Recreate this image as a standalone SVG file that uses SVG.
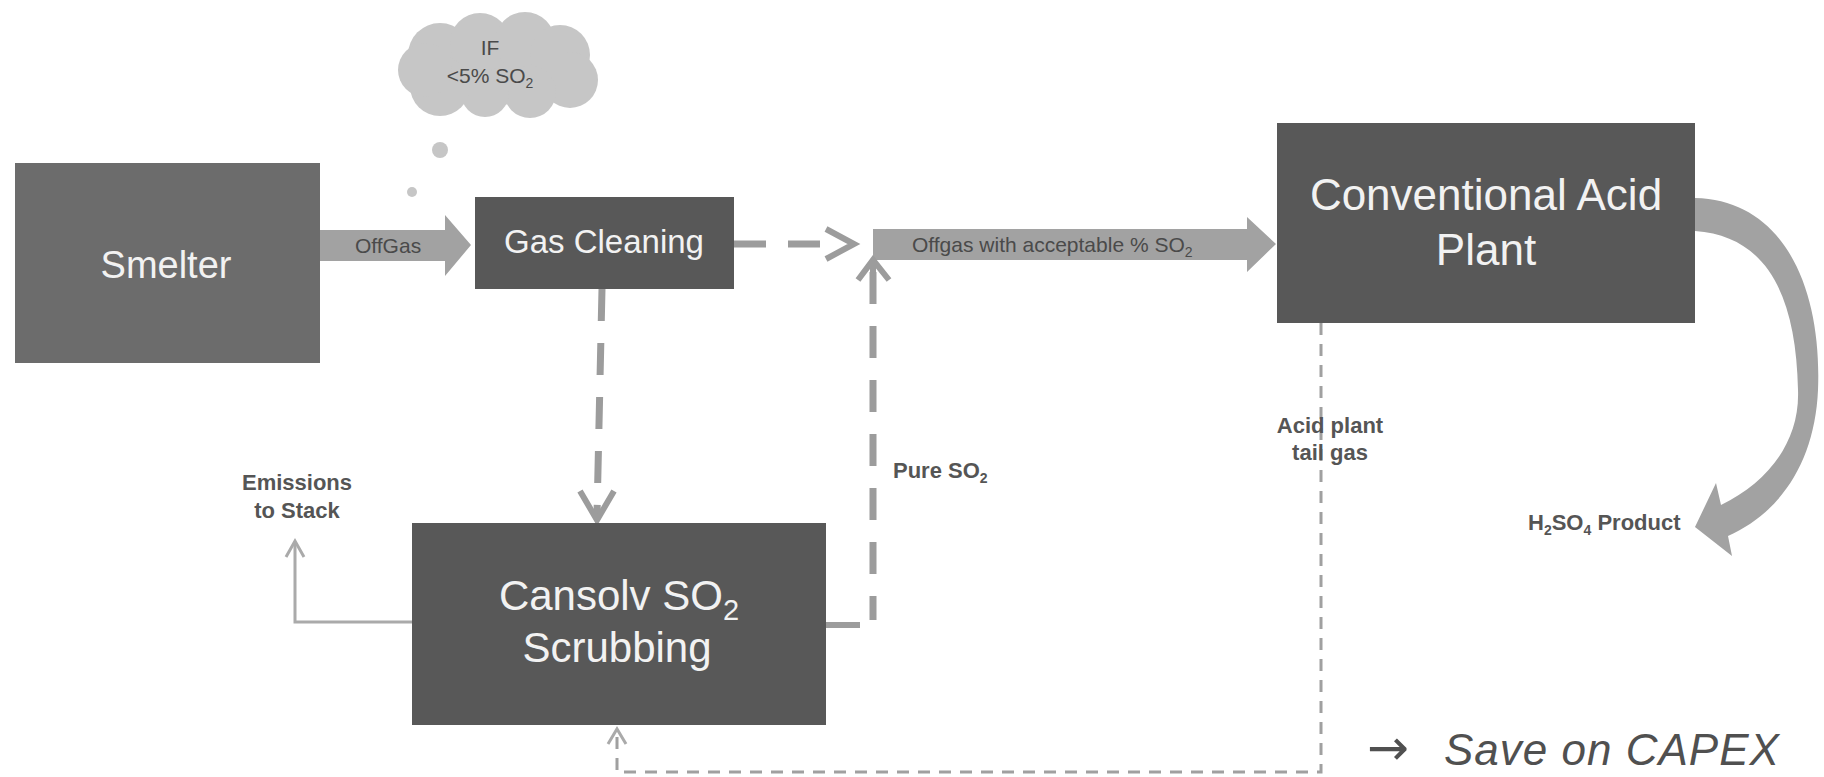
<svg xmlns="http://www.w3.org/2000/svg" width="1824" height="777" viewBox="0 0 1824 777">
  <style>
    .box { fill: #585858; }
    .boxtxt { fill: #f2f2f2; font-family: "Liberation Sans", Arial, sans-serif; text-anchor: middle; }
    .lbl { fill: #555555; font-family: "Liberation Sans", Arial, sans-serif; font-weight: bold; font-size: 22px; }
    .arrtxt { fill: #4a4a4a; font-family: "Liberation Sans", Arial, sans-serif; font-size: 21px; }
    .fat { fill: #a2a2a2; }
    .thickdash { fill: none; stroke: #9c9c9c; stroke-width: 7; stroke-dasharray: 32 22; }
    .thickhead { fill: none; stroke: #9c9c9c; stroke-width: 6; stroke-linejoin: miter; }
    .thindash { fill: none; stroke: #a0a0a0; stroke-width: 3; stroke-dasharray: 12 9; }
    .thin { fill: none; stroke: #aaaaaa; stroke-width: 3; }
    .cloud { fill: #c6c6c6; }
  </style>
  <rect width="1824" height="777" fill="#ffffff"/>

  <g id="cloud">
    <g class="cloud">
      <circle cx="500" cy="65" r="40"/>
      <circle cx="440" cy="55" r="32"/>
      <circle cx="480" cy="43" r="30"/>
      <circle cx="525" cy="42" r="30"/>
      <circle cx="560" cy="55" r="30"/>
      <circle cx="570" cy="80" r="28"/>
      <circle cx="530" cy="92" r="26"/>
      <circle cx="485" cy="93" r="24"/>
      <circle cx="440" cy="86" r="30"/>
      <circle cx="425" cy="70" r="27"/>
      <circle cx="440" cy="150" r="8"/>
      <circle cx="412" cy="192" r="5"/>
    </g>
    <text x="490" y="55" text-anchor="middle" fill="#4a4a4a" font-family="Liberation Sans, Arial, sans-serif" font-size="21">IF</text>
    <text x="490" y="83" text-anchor="middle" fill="#4a4a4a" font-family="Liberation Sans, Arial, sans-serif" font-size="21">&lt;5% SO<tspan font-size="14" dy="5">2</tspan></text>
  </g>

  <g id="connectors">
    <!-- Smelter -> Gas Cleaning (OffGas) -->
    <polygon class="fat" points="320,230 445,230 445,215 471,245 445,276 445,261 320,261"/>
    <text class="arrtxt" x="355" y="253">OffGas</text>

    <!-- Gas Cleaning -> offgas (dashed) -->
    <line class="thickdash" x1="734" y1="244" x2="822" y2="244" stroke-dasharray="30 22"/>
    <polyline class="thickhead" points="826,229 854,244 826,259"/>

    <!-- Offgas with acceptable % SO2 -> Acid Plant -->
    <polygon class="fat" points="873,229 1247,229 1247,217 1276,244 1247,272 1247,260 873,260"/>
    <text class="arrtxt" x="912" y="252">Offgas with  acceptable % SO<tspan font-size="14" dy="5">2</tspan></text>

    <!-- Gas Cleaning -> Cansolv (dashed down) -->
    <line class="thickdash" x1="602" y1="289" x2="597" y2="515"/>
    <polyline class="thickhead" points="580,491 597,520 614,491"/>

    <!-- Cansolv -> Pure SO2 up to offgas -->
    <line x1="826" y1="625" x2="860" y2="625" stroke="#9c9c9c" stroke-width="6"/>
    <line class="thickdash" x1="873" y1="620" x2="873" y2="262" stroke-dashoffset="8"/>
    <polyline class="thickhead" points="858,280 873,260 889,280"/>
    <line x1="873" y1="262" x2="873" y2="275" stroke="#9c9c9c" stroke-width="6"/>

    <!-- Emissions to stack -->
    <polyline class="thin" points="412,622 295,622 295,542"/>
    <polyline class="thin" points="286,557 295,541 304,557"/>

    <!-- Acid plant tail gas -> Cansolv -->
    <polyline class="thindash" points="1321,323 1321,772 617,772 617,731"/>
    <polyline class="thin" stroke="#a0a0a0" points="608,744 617,729 626,744"/>

    <!-- Acid plant -> H2SO4 product (curved fat arrow) -->
    <path class="fat" fill="#9c9c9c" d="M1695,198 C1785,200 1822,290 1818,390 C1815,460 1782,512 1728,536 L1732,556 L1695,527 L1716,483 L1721,505 C1768,482 1800,442 1798,390 C1796,292 1765,236 1695,231 Z"/>
  </g>

  <g id="smelter">
    <rect x="15" y="163" width="305" height="200" fill="#6c6c6c"/>
    <text class="boxtxt" x="166" y="278" font-size="38">Smelter</text>
  </g>

  <g id="gas-cleaning">
    <rect class="box" x="475" y="197" width="259" height="92"/>
    <text class="boxtxt" x="604" y="253" font-size="33">Gas Cleaning</text>
  </g>

  <g id="acid-plant">
    <rect class="box" x="1277" y="123" width="418" height="200"/>
    <text class="boxtxt" x="1486" y="210" font-size="44">Conventional Acid</text>
    <text class="boxtxt" x="1486" y="265" font-size="44">Plant</text>
  </g>

  <g id="cansolv">
    <rect class="box" x="412" y="523" width="414" height="202" fill="#555555"/>
    <text class="boxtxt" x="619" y="610" font-size="42">Cansolv SO<tspan font-size="29" dy="10">2</tspan></text>
    <text class="boxtxt" x="617" y="662" font-size="42">Scrubbing</text>
  </g>

  <g id="labels">
    <text class="lbl" x="297" y="490" text-anchor="middle">Emissions</text>
    <text class="lbl" x="297" y="518" text-anchor="middle">to Stack</text>
    <text class="lbl" x="893" y="478">Pure SO<tspan font-size="14" dy="5">2</tspan></text>
    <text class="lbl" x="1330" y="433" text-anchor="middle">Acid plant</text>
    <text class="lbl" x="1330" y="460" text-anchor="middle">tail gas</text>
    <text class="lbl" x="1528" y="530">H<tspan font-size="14" dy="5">2</tspan><tspan dy="-5">SO</tspan><tspan font-size="14" dy="5">4</tspan><tspan dy="-5"> Product</tspan></text>
    <text x="1367" y="765" fill="#505050" font-family="Liberation Sans, Arial, sans-serif" font-style="italic" font-size="44"><tspan font-family="DejaVu Sans, sans-serif" font-style="normal" font-size="50">→</tspan><tspan x="1444" letter-spacing="1">Save on CAPEX</tspan></text>
  </g>
</svg>
